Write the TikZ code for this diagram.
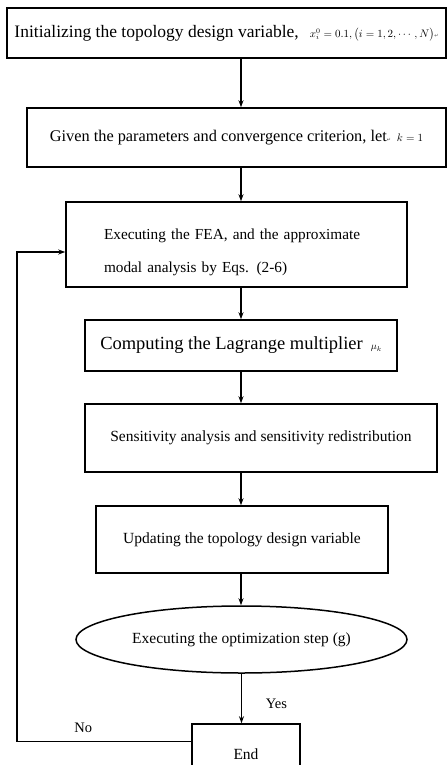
\documentclass[tikz,border=0pt]{standalone}
\usepackage{amsmath}
\usepackage{fontspec}
\setmainfont{Liberation Serif}
\newfontfamily\markfont{DejaVu Sans}
\usepackage{tikz}
\usetikzlibrary{shapes.geometric, arrows.meta, positioning, calc}
\newcommand{\parmark}{{\markfont\fontsize{5}{5}\selectfont\color{black!70}↵}}
\newcommand{\fsz}[1]{\fontsize{#1}{1.2\dimexpr#1pt\relax}\selectfont}
\tikzstyle{arrow} = [line width=1.3pt,-{Stealth[length=7pt,width=5pt]}]

\begin{document}
\begin{tikzpicture}[
    x=1pt, y=-1pt,
    box/.style={
        rectangle,
        minimum width=#1,
        draw=black,
        line width=1.5pt,
        inner sep=0pt,
        text centered
    },
    oval/.style={
        ellipse,
        draw=black,
        line width=1.5pt,
        inner sep=0pt
    },
    lbl/.style={font=\fsz{14.5}}
]
    \useasboundingbox (0,0) rectangle (447,765);
    \coordinate (axis) at (241,0);
    \coordinate (back) at (17,0);

    \node[box=439pt, minimum height=50pt, font=\fsz{17.5}] (init) at (226.5,33)
        {Initializing the topology design variable,\hspace{11pt}{\fsz{10.5}$x_i^0=0.1,\bigl(i=1,2,\cdots,N\bigr)$}\parmark};

    \node[box=419pt, minimum height=59pt, font=\fsz{16.3}] (param) at (236.5,137.5)
        {Given the parameters and convergence criterion, let\parmark\hspace{6pt}{\fsz{11}$k=1$}};

    \node[box=341pt, minimum height=85pt, font=\fsz{15.3}, text width=265pt, align=left] (fea) at (236.5,244.5)
        {\rule{0pt}{26pt}Executing the FEA, and the approximate\\[15pt]
         modal analysis by Eqs. (2-6)};

    \node[box=312pt, minimum height=51pt, font=\fsz{18.5}] (lagr) at (241,345.5)
        {Computing the Lagrange multiplier\hspace{8pt}{\fsz{10}$\mu_k$}};

    \node[box=352pt, minimum height=68pt, font=\fsz{15.5}] (sens) at (261,438)
        {Sensitivity analysis and sensitivity redistribution};

    \node[box=292pt, minimum height=67pt, font=\fsz{15.5}] (upd) at (242,539.5)
        {Updating the topology design variable};

    \node[oval, minimum width=331pt, minimum height=67pt, font=\fsz{15.5}] (opt) at (241.5,639.5)
        {Executing the optimization step (g)};

    \node[box=108pt, minimum height=60pt, font=\fsz{15.5}] (endbox) at (246,754)
        {End};

    % main flow
    \draw[arrow] (init.south -| axis) -- (param.north -| axis);
    \draw[arrow] (param.south -| axis) -- (fea.north -| axis);
    \draw[arrow] (fea.south -| axis) -- (lagr.north -| axis);
    \draw[arrow] (lagr.south -| axis) -- (sens.north -| axis);
    \draw[arrow] (sens.south -| axis) -- (upd.north -| axis);
    \draw[arrow] (upd.south -| axis) -- (opt.north -| axis);
    \draw[arrow] (opt.south) -- node[lbl, pos=0.6, xshift=35pt] (yes) {Yes} (endbox.north -| opt.south);

    % loop back
    \coordinate (out) at ($(endbox.north west)+(0,18)$);
    \coordinate (in) at ($(fea.west)+(0,7.5)$);
    \draw[arrow] (out) -- node[lbl, pos=0.62, above=5pt] (no) {No} (out -| back) |- (in);
\end{tikzpicture}
\end{document}
